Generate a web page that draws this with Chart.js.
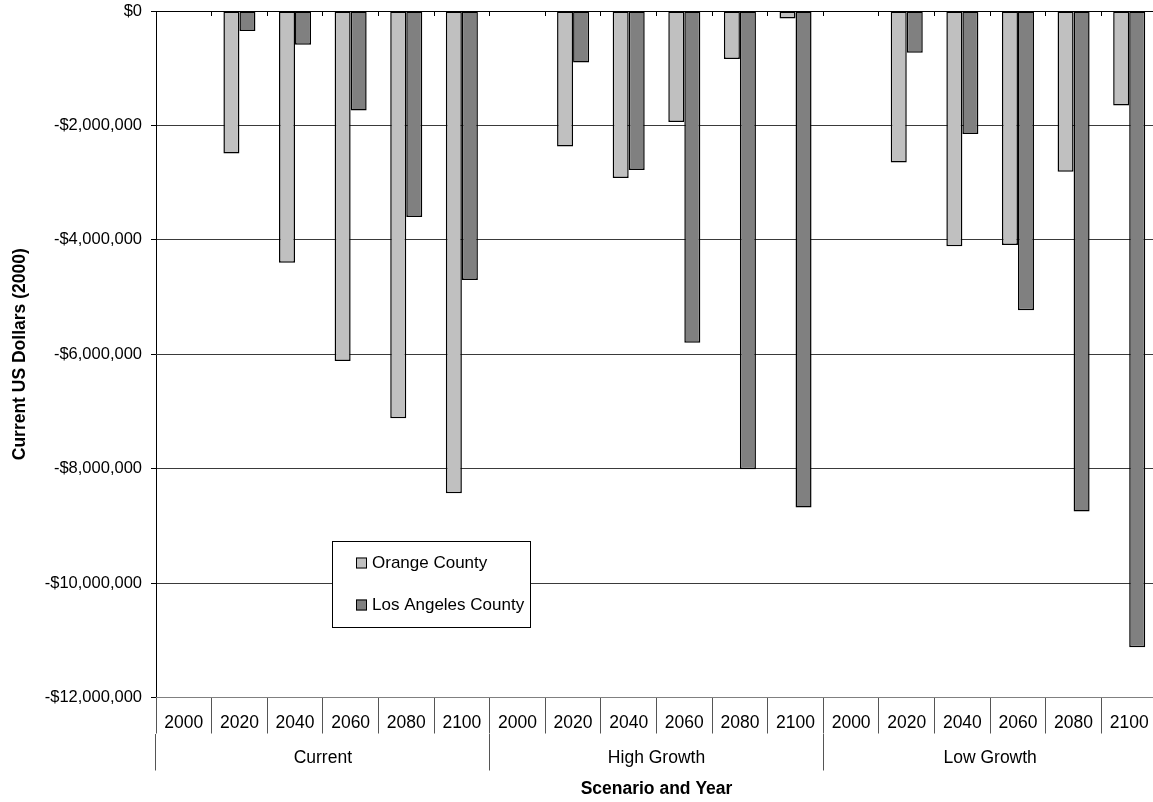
<!DOCTYPE html>
<html>
<head>
<meta charset="utf-8">
<script src="https://cdn.jsdelivr.net/npm/chart.js@4/dist/chart.umd.min.js"></script>
<style>
  html, body { margin: 0; padding: 0; background: #fff; overflow: hidden; }
  #wrap { width: 1160px; height: 802px; }
</style>
</head>
<body>
<div id="wrap"><canvas id="chart" width="1160" height="802"></canvas></div>
<script>
// Scenario groups and the years shown inside each group
const scenarios = ['Current', 'High Growth', 'Low Growth'];
const years = ['2000', '2020', '2040', '2060', '2080', '2100'];

// Net change, current US dollars (2000), one value per scenario/year
const orangeCounty = [
  0, -2490000, -4400000, -6120000, -7120000, -8430000,
  0, -2370000, -2920000, -1940000, -840000, -130000,
  0, -2650000, -4110000, -4090000, -2810000, -1650000
];
const losAngelesCounty = [
  0, -350000, -590000, -1740000, -3600000, -4700000,
  0, -900000, -2780000, -5800000, -8010000, -8680000,
  0, -730000, -2150000, -5230000, -8750000, -11120000
];

// Value axis ticks
const yTicks = [0, -2000000, -4000000, -6000000, -8000000, -10000000, -12000000];

const categoryLabels = scenarios.flatMap(() => years);

const FONT = '"Liberation Sans", Arial, Helvetica, sans-serif';
const TXT = 17.5;

function money(v) {
  if (v === 0) return '$0';
  const s = Math.abs(v).toLocaleString('en-US');
  return (v < 0 ? '-$' : '$') + s;
}

// Boxed legend drawn inside the plot
const boxLegend = {
  id: 'boxLegend',
  afterDraw(chart, args, opts) {
    const ctx = chart.ctx;
    const { left, top, width, height, rowY, swatchX, swatch, textX, size } = opts;
    ctx.save();
    ctx.fillStyle = '#ffffff';
    ctx.fillRect(left, top, width, height);
    ctx.strokeStyle = '#000000';
    ctx.lineWidth = 1;
    ctx.strokeRect(left + 0.5, top + 0.5, width, height);
    ctx.font = size + 'px ' + FONT;
    ctx.textBaseline = 'middle';
    ctx.textAlign = 'left';
    chart.data.datasets.forEach((ds, i) => {
      const cy = rowY[i];
      ctx.fillStyle = ds.backgroundColor;
      ctx.fillRect(swatchX, cy - swatch / 2, swatch, swatch);
      ctx.strokeStyle = '#000000';
      ctx.lineWidth = 1;
      ctx.strokeRect(swatchX + 0.5, cy - swatch / 2 + 0.5, swatch - 1, swatch - 1);
      ctx.fillStyle = '#000000';
      ctx.fillText(ds.label, textX, cy);
    });
    ctx.restore();
  }
};

new Chart(document.getElementById('chart'), {
  type: 'bar',
  data: {
    labels: categoryLabels,
    datasets: [
      {
        label: 'Orange County',
        data: orangeCounty,
        xAxisID: 'x',
        backgroundColor: '#c0c0c0',
        borderColor: '#000000',
        borderWidth: 1.5,
        borderSkipped: false
      },
      {
        label: 'Los Angeles County',
        data: losAngelesCounty,
        xAxisID: 'x',
        backgroundColor: '#808080',
        borderColor: '#000000',
        borderWidth: 1.5,
        borderSkipped: false
      }
    ]
  },
  options: {
    responsive: false,
    animation: false,
    devicePixelRatio: 1,
    layout: { padding: { left: 0, right: 3, top: 0, bottom: 0 } },
    datasets: { bar: { categoryPercentage: 0.576, barPercentage: 1.0 } },
    plugins: {
      legend: { display: false },
      tooltip: { enabled: false },
      boxLegend: {
        left: 332, top: 541, width: 198, height: 86,
        rowY: [563, 605], swatchX: 356, swatch: 11, textX: 372, size: 17
      }
    },
    scales: {
      y: {
        min: -12000000,
        max: 0,
        afterFit(s) { s.width = 156; s.paddingTop = 0; s.paddingBottom = 0; },
        afterBuildTicks(s) { s.ticks = yTicks.map(v => ({ value: v })); },
        ticks: {
          callback: (v) => money(v),
          color: '#000',
          font: { family: FONT, size: 16.5 },
          padding: 9
        },
        grid: { color: '#3a3a3a', lineWidth: 1, tickLength: 5, tickColor: '#000' },
        border: { display: true, color: '#000', width: 1 },
        title: {
          display: true,
          text: 'Current US Dollars (2000)',
          color: '#000',
          font: { family: FONT, size: TXT, weight: 'bold' },
          padding: { top: 10, bottom: 0 }
        }
      },
      xTop: {
        type: 'category',
        position: 'top',
        labels: categoryLabels,
        offset: true,
        afterFit(s) { s.height = 11; s.paddingLeft = 0; s.paddingRight = 0; },
        ticks: { display: false },
        grid: { offset: true, drawOnChartArea: false, tickLength: -5, color: '#000' },
        border: { display: true, color: '#000', width: 1 }
      },
      x: {
        type: 'category',
        position: 'bottom',
        weight: 0,
        offset: true,
        afterFit(s) { s.height = 36; s.paddingLeft = 0; s.paddingRight = 0; },
        ticks: {
          autoSkip: false,
          maxRotation: 0,
          color: '#000',
          font: { family: FONT, size: TXT },
          padding: -21
        },
        grid: { offset: true, drawOnChartArea: false, tickLength: 36, color: '#555' },
        border: { display: true, color: '#808080', width: 1 }
      },
      x2: {
        type: 'category',
        position: 'bottom',
        weight: 1,
        labels: scenarios,
        offset: true,
        afterFit(s) { s.height = 68.5; s.paddingLeft = 0; s.paddingRight = 0; },
        ticks: {
          autoSkip: false,
          maxRotation: 0,
          color: '#000',
          font: { family: FONT, size: TXT },
          padding: -22.5
        },
        grid: { offset: true, drawOnChartArea: false, tickLength: 37, color: '#555' },
        border: { display: false },
        title: {
          display: true,
          text: 'Scenario and Year',
          color: '#000',
          font: { family: FONT, size: TXT, weight: 'bold' },
          padding: { top: 0, bottom: 2.5 }
        }
      }
    }
  },
  plugins: [boxLegend]
});
</script>
</body>
</html>
